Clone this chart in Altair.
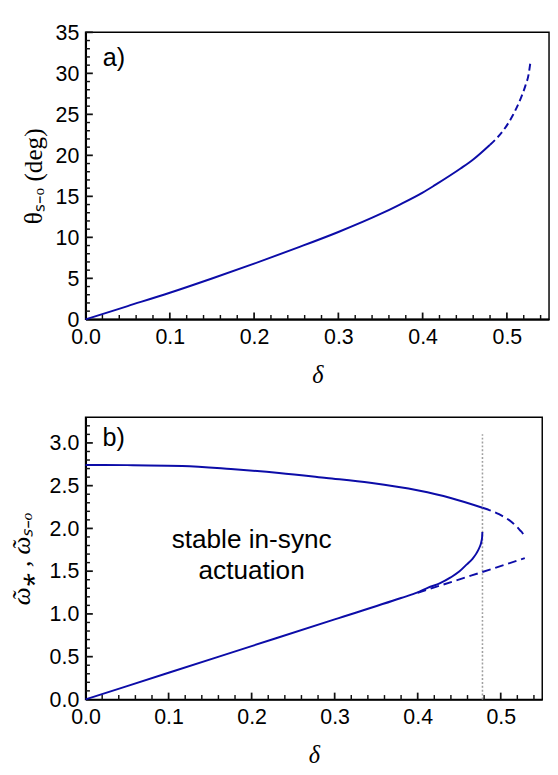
import altair as alt
import pandas as pd

# ---------------- data ----------------
# panel a: theta_{s-o} (deg) vs delta
a_solid_x = [0.0, 0.05, 0.1, 0.15, 0.2, 0.25, 0.3, 0.35, 0.37, 0.4, 0.415, 0.445, 0.46, 0.48]
a_solid_y = [0.0, 1.62, 3.24, 4.98, 6.79, 8.68, 10.65, 12.85, 13.85, 15.45, 16.4, 18.4, 19.5, 21.3]
a_dash_x = [0.48, 0.488, 0.4952, 0.5067, 0.5162, 0.522, 0.5258, 0.5277]
a_dash_y = [21.3, 22.1, 22.96, 24.82, 26.9, 28.5, 29.9, 31.2]

# panel b: omega curves vs delta
b_up_x = [0.0, 0.05, 0.1166, 0.175, 0.233, 0.29, 0.3427, 0.401, 0.4397, 0.478]
b_up_y = [2.742, 2.740, 2.731, 2.695, 2.648, 2.59, 2.534, 2.443, 2.356, 2.242]
b_updash_x = [0.478, 0.498, 0.5135, 0.5233, 0.527, 0.528]
b_updash_y = [2.242, 2.166, 2.072, 1.977, 1.93, 1.89]
b_low_x = [0.0, 0.1, 0.2, 0.3, 0.38, 0.4, 0.4126, 0.427, 0.4397, 0.45, 0.4592, 0.466, 0.4709, 0.4745, 0.4767, 0.4776, 0.4779]
b_low_y = [0.0, 0.312, 0.624, 0.936, 1.186, 1.252, 1.307, 1.36, 1.427, 1.495, 1.58, 1.645, 1.711, 1.78, 1.844, 1.9, 1.958]
b_lowdash_x = [0.40, 0.465, 0.529]
b_lowdash_y = [1.248, 1.45, 1.652]
b_vline_x = [0.478]
b_vline_y = [0.0]
b_vline_y2 = [3.1]

# axis ticks
x_major = [0.0, 0.1, 0.2, 0.3, 0.4, 0.5]
x_minor = [0.02, 0.04, 0.06, 0.08, 0.12, 0.14, 0.16, 0.18, 0.22, 0.24, 0.26, 0.28,
           0.32, 0.34, 0.36, 0.38, 0.42, 0.44, 0.46, 0.48, 0.52, 0.54]
a_y_major = [0, 5, 10, 15, 20, 25, 30, 35]
a_y_minor = [v for v in range(1, 35) if v % 5 != 0]
b_y_major = [0.0, 0.5, 1.0, 1.5, 2.0, 2.5, 3.0]
b_y_minor = [round(i / 10, 1) for i in range(1, 33) if i % 5 != 0]

# annotations
a_tag = {"t": ["a)"], "x": [0.0336], "y": [31.9]}
b_tag = {"t": ["b)"], "x": [0.0338], "y": [3.05]}
b_note = {"t": ["stable in-sync", "actuation"], "x": [0.2, 0.2], "y": [1.768, 1.41]}

BLUE = "#0c0ca8"
TICK = "#111111"
LABEL_FONT = "Liberation Sans"
TITLE_FONT = "Liberation Serif"
X_MAX = 0.55

W_A, H_A = 478, 296
W_B, H_B = 471, 291


def df(**cols):
    return pd.DataFrame(cols)


def xenc(tpad=16):
    return alt.X(
        "x:Q",
        scale=alt.Scale(domain=[0, X_MAX], nice=False, zero=False),
        axis=alt.Axis(values=x_major, format=".1f", title="δ",
                      titleFont=TITLE_FONT, titleFontStyle="italic",
                      titleFontWeight="normal", titleFontSize=25,
                      titlePadding=tpad, labelPadding=8),
    )


def yenc(domain, values, fmt, title, tfont_style, tpad, tsize):
    return alt.Y(
        "y:Q",
        scale=alt.Scale(domain=domain, nice=False, zero=False),
        axis=alt.Axis(values=values, format=fmt, title=title,
                      titleFont=TITLE_FONT, titleFontStyle=tfont_style,
                      titleFontWeight="normal", titleFontSize=tsize,
                      titlePadding=tpad, labelPadding=7),
    )


def ticks(W, H, ymax, xe, ye, ymaj, ymin):
    """Inward-pointing major/minor ticks, drawn as data rules."""
    def xt(vals, px, sw):
        d = df(x=vals, y=[0.0] * len(vals), y2=[px / H * ymax] * len(vals))
        return alt.Chart(d).mark_rule(color=TICK, strokeWidth=sw).encode(
            x=xe, y=ye, y2="y2:Q")

    def yt(vals, px, sw):
        d = df(y=vals, x=[0.0] * len(vals), x2=[px / W * X_MAX] * len(vals))
        return alt.Chart(d).mark_rule(color=TICK, strokeWidth=sw).encode(
            y=ye, x=xe, x2="x2:Q")

    return [xt(x_major[1:], 7, 1.8), xt(x_minor, 4.5, 1.5),
            yt(ymaj[1:], 7.5, 1.8), yt(ymin, 4.5, 1.5)]


def line(xs, ys, xe, ye, dash=None):
    kw = dict(color=BLUE, strokeWidth=2, interpolate="monotone")
    if dash:
        kw["strokeDash"] = dash
    return alt.Chart(df(x=xs, y=ys, i=list(range(len(xs))))).mark_line(**kw).encode(
        x=xe, y=ye, order="i:Q")


# ---------------- panel a ----------------
xa = xenc(16)
ya = yenc([0, 35], a_y_major, "d", "θₛ₋ₒ (deg)", "normal", 9, 26)
a_layers = [
    line(a_solid_x, a_solid_y, xa, ya),
    line(a_dash_x, a_dash_y, xa, ya, [7, 4]),
    alt.Chart(pd.DataFrame(a_tag)).mark_text(font=LABEL_FONT, fontSize=26, color="black").encode(
        x=xa, y=ya, text="t:N"),
]
a_layers += ticks(W_A, H_A, 35, xa, ya, a_y_major, a_y_minor)
panel_a = alt.layer(*a_layers).properties(width=W_A, height=H_A)

# ---------------- panel b ----------------
xb = xenc(16)
yb = yenc([0, 3.3], b_y_major, ".1f", "ῶ⁎ , ῶₛ₋ₒ", "italic", 15, 26)
b_layers = [
    alt.Chart(df(x=b_vline_x, y=b_vline_y, y2=b_vline_y2)).mark_rule(
        color="#a0a0a0", strokeWidth=1.6, strokeDash=[2, 2]).encode(x=xb, y=yb, y2="y2:Q"),
    line(b_up_x, b_up_y, xb, yb),
    line(b_updash_x, b_updash_y, xb, yb, [9, 5]),
    line(b_low_x, b_low_y, xb, yb),
    line(b_lowdash_x, b_lowdash_y, xb, yb, [9, 5]),
    alt.Chart(pd.DataFrame(b_tag)).mark_text(font=LABEL_FONT, fontSize=26, color="black").encode(
        x=xb, y=yb, text="t:N"),
    alt.Chart(pd.DataFrame(b_note)).mark_text(font=LABEL_FONT, fontSize=27, color="black",
                                              baseline="alphabetic").encode(
        x=xb, y=yb, text="t:N"),
]
b_layers += ticks(W_B, H_B, 3.3, xb, yb, b_y_major, b_y_minor)
panel_b = alt.layer(*b_layers).properties(width=W_B, height=H_B)

chart = alt.concat(panel_a, panel_b, columns=1, spacing=29, align="none").properties(
    padding={"left": 0, "top": 1, "right": 0, "bottom": 0},
    background="white",
).configure_axis(
    grid=False, ticks=False, tickSize=0, domainColor="black", domainWidth=2,
    labelFont=LABEL_FONT, labelFontSize=22, labelColor="black",
    titleColor="black", labelOverlap=False, labelFlush=False,
).configure_view(stroke="black", strokeWidth=1.5)

chart.save("out.html", embed_options={"renderer": "svg", "actions": False})
